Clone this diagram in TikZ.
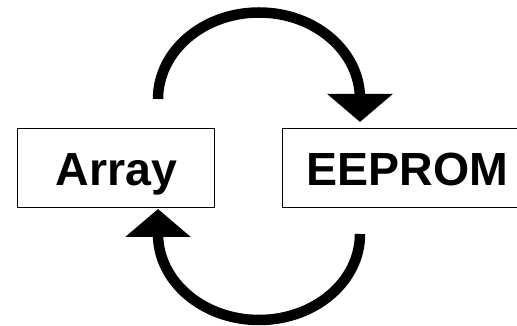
\documentclass[tikz,border=0pt]{standalone}
\usepackage{fontspec}
\setmainfont{Liberation Sans}
\usetikzlibrary{arrows.meta}
\begin{document}
\begin{tikzpicture}[x=1pt,y=1pt,
  memory/.style={draw=black, line width=1.4pt, inner sep=0pt,
    text height=57pt, text depth=22pt,
    font=\bfseries\fontsize{46.5}{50}\selectfont},
  transfer/.style={line width=10.5pt, line cap=butt,
    -{Triangle[width=64pt,length=28pt]}}]
  \useasboundingbox (0,0) rectangle (517,326);
  % the two memories
  \node[memory, minimum width=197pt, anchor=south west] (array) at (17,118) {Array};
  \node[memory, minimum width=249pt, anchor=south west] (eeprom) at (282,118) {EEPROM};
  % arc ends
  \coordinate (topstart) at (158,227);
  \coordinate (topend) at (360,204);
  \coordinate (botstart) at (360,92);
  \coordinate (botend) at (158,117);
  % Array -> EEPROM over the top
  \draw[transfer] (topstart) arc[start angle=180, end angle=0, x radius=101, y radius=86.5] -- (topend);
  % EEPROM -> Array underneath
  \draw[transfer] (botstart) arc[start angle=0, end angle=-180, x radius=101, y radius=86] -- (botend);
\end{tikzpicture}
\end{document}
